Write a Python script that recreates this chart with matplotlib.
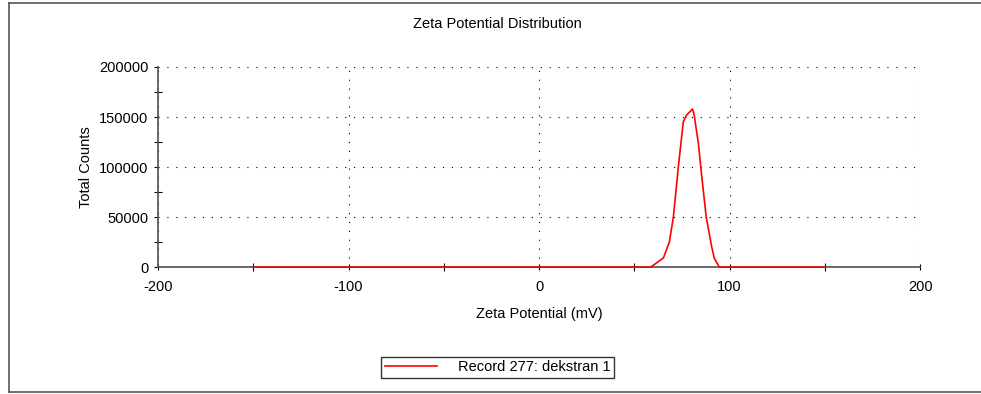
import matplotlib.pyplot as plt
from matplotlib.lines import Line2D
from matplotlib.ticker import MultipleLocator

plt.rcParams['font.family'] = ['Liberation Sans', 'DejaVu Sans']
plt.rcParams['font.size'] = 10.5
plt.rcParams['axes.unicode_minus'] = False

# zeta potential record (mV vs total counts)
zeta = [-150, 58.6, 65.3, 68.4, 70.5, 73.1, 75.7, 77.5, 80.5, 81.4, 83.6, 85.4,
        87.7, 90.6, 92.0, 94.6, 150]
counts = [0, 0, 9300, 25300, 50300, 100300, 145300, 152000, 158000, 152000,
          123700, 90300, 50300, 20300, 8700, 0, 0]
record_name = "Record 277: dekstran 1"

axis_grey = "#505050"

fig = plt.figure(figsize=(9.81, 3.94), dpi=100)
ax = fig.add_axes([0.161, 0.322, 0.777, 0.508])

line, = ax.plot(zeta, counts, color="#ff0000", lw=1.2, label=record_name,
                zorder=3, clip_on=False)

ax.set_xlim(-200, 200)
ax.set_ylim(0, 200000)
ax.xaxis.set_major_locator(MultipleLocator(100))
ax.xaxis.set_minor_locator(MultipleLocator(50))
ax.yaxis.set_major_locator(MultipleLocator(50000))
ax.yaxis.set_minor_locator(MultipleLocator(25000))

for side in ("top", "right"):
    ax.spines[side].set_visible(False)
for side in ("left", "bottom"):
    ax.spines[side].set_color(axis_grey)
    ax.spines[side].set_linewidth(1.2)
    ax.spines[side].set_zorder(2)

ax.tick_params(which="both", direction="inout", color="black", width=0.8)
ax.tick_params(which="minor", length=6)
ax.tick_params(axis="y", which="major", direction="out", length=3, pad=4)
ax.tick_params(axis="x", which="major", length=5, pad=7)

ax.grid(True, which="major", color="black", linestyle=(0, (1, 7)), linewidth=0.8)

ax.set_xlabel("Zeta Potential (mV)", labelpad=9)
ax.set_ylabel("Total Counts", labelpad=4)
fig.text(0.507, 0.938, "Zeta Potential Distribution", ha="center", va="center")

leg = fig.legend(handles=[line], loc="center", bbox_to_anchor=(0.507, 0.068),
                 frameon=True, fancybox=False, handlelength=3.6,
                 handletextpad=1.4, borderpad=0.25, borderaxespad=0)
leg.get_frame().set_edgecolor("black")
leg.get_frame().set_linewidth(1.0)

# outer panel border (left, top, bottom)
border = dict(color="#555555", lw=1.2, transform=fig.transFigure)
fig.add_artist(Line2D([8.5 / 981, 8.5 / 981], [2.5 / 394, 1 - 2.5 / 394], **border))
fig.add_artist(Line2D([8.5 / 981, 1], [1 - 2.5 / 394, 1 - 2.5 / 394], **border))
fig.add_artist(Line2D([8.5 / 981, 1], [2.5 / 394, 2.5 / 394], **border))

fig.savefig("out.png", dpi=100)
